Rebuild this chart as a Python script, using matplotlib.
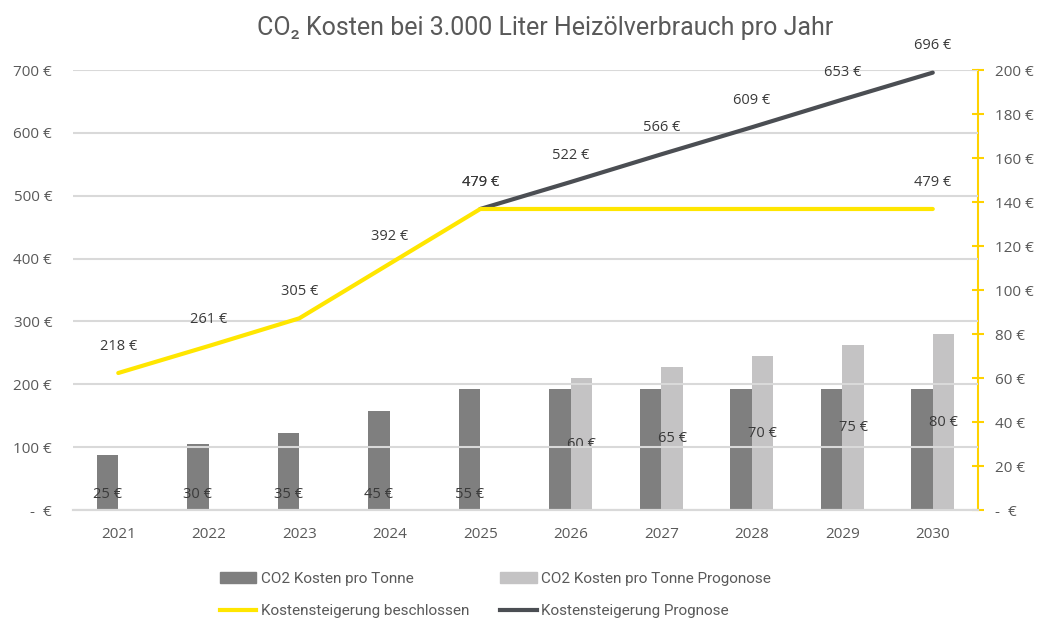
import numpy as np
import matplotlib.pyplot as plt
from matplotlib.patches import Patch
from matplotlib.lines import Line2D

years = ['2021', '2022', '2023', '2024', '2025', '2026', '2027', '2028', '2029', '2030']
co2_tonne = [25, 30, 35, 45, 55, 55, 55, 55, 55, 55]
co2_prognose = [0, 0, 0, 0, 0, 60, 65, 70, 75, 80]
kosten_beschlossen = [218, 261, 305, 392, 479, 479, 479, 479, 479, 479]
kosten_prognose = [None, None, None, None, 479, 522, 566, 609, 653, 696]

left_ticks = [0, 100, 200, 300, 400, 500, 600, 700]
right_ticks = [0, 20, 40, 60, 80, 100, 120, 140, 160, 180, 200]

dark_bar = '#7f7f7f'
light_bar = '#c4c3c4'
yellow = '#ffe600'
dark_line = '#4b4e53'
text_col = '#595959'
label_col = '#3a3a3a'

plt.rcParams['font.family'] = ['Open Sans', 'DejaVu Sans']

fig = plt.figure(figsize=(10.43, 6.26), dpi=100)
ax = fig.add_axes([0.070, 0.1853, 0.8677, 0.7027])
ax2 = ax.twinx()

x = np.arange(len(years))
w = 0.24

# bars on right axis
ax2.bar(x - w / 2, co2_tonne, w, color=dark_bar, zorder=2)
ax2.bar(x + w / 2, co2_prognose, w, color=light_bar, zorder=2)
for i, v in enumerate(co2_tonne):
    if i < 5:
        ax2.text(x[i] - w / 2, 7, f'{v} €', ha='center', va='center',
                 fontsize=10.5, color=label_col, zorder=3)
for i, v in enumerate(co2_prognose):
    if v:
        ax2.text(x[i] + w / 2, v / 2, f'{v} €', ha='center', va='center',
                 fontsize=10.5, color=label_col, zorder=3)

# lines on left axis, drawn above the bars
ax.set_zorder(ax2.get_zorder() + 1)
ax.patch.set_visible(False)
px = [i for i, v in enumerate(kosten_prognose) if v is not None]
py = [v for v in kosten_prognose if v is not None]
ax.plot(px, py, color=dark_line, lw=3, solid_capstyle='round', zorder=3)
ax.plot(x, kosten_beschlossen, color=yellow, lw=3, solid_capstyle='round', zorder=4)

for i, v in enumerate(kosten_beschlossen):
    if i <= 4 or i == 9:
        ax.annotate(f'{v} €', (x[i], v), xytext=(0, 14), textcoords='offset points',
                    ha='center', va='bottom', fontsize=10.5, color=label_col)
for i, v in zip(px, py):
    ax.annotate(f'{v} €', (x[i], v), xytext=(0, 14), textcoords='offset points',
                ha='center', va='bottom', fontsize=10.5, color=label_col)

ax.set_xlim(-0.5, 9.5)
ax.set_ylim(0, 700)
ax2.set_ylim(0, 200)

ax.set_yticks(left_ticks)
ax.set_yticklabels(['-  €' if t == 0 else f'{t} €' for t in left_ticks])
ax2.set_yticks(right_ticks)
ax2.set_yticklabels(['-  €' if t == 0 else f'{t} €' for t in right_ticks])
ax.set_xticks(x)
ax.set_xticklabels(years)

ax.grid(axis='y', color='#d9d9d9', lw=1.5)
ax.set_axisbelow(True)
ax2.grid(False)

for a in (ax, ax2):
    for s in ['top', 'left', 'right']:
        a.spines[s].set_visible(False)
    a.spines['bottom'].set_color('#d9d9d9')
    a.spines['bottom'].set_linewidth(1.5)
ax2.spines['right'].set_visible(True)
ax2.spines['right'].set_color('#ffd200')
ax2.spines['right'].set_linewidth(1.5)

ax.tick_params(axis='y', length=0, colors=text_col, labelsize=11, pad=15)
ax.tick_params(axis='x', length=0, colors=text_col, labelsize=11, pad=12)
ax2.tick_params(axis='y', direction='inout', length=9, width=1.5, color='#ffd200',
                labelcolor=text_col, labelsize=11, pad=8)

fig.text(0.523, 0.955, 'CO₂ Kosten bei 3.000 Liter Heizölverbrauch pro Jahr',
         ha='center', va='center', fontsize=18, color=text_col,
         family=['Roboto', 'DejaVu Sans'])

handles = [Patch(color=dark_bar), Line2D([], [], color=yellow, lw=3),
           Patch(color=light_bar), Line2D([], [], color=dark_line, lw=3)]
labels = ['CO2 Kosten pro Tonne', 'Kostensteigerung beschlossen',
          'CO2 Kosten pro Tonne Progonose', 'Kostensteigerung Prognose']
fig.legend(handles, labels, ncol=2, loc='center', bbox_to_anchor=(0.475, 0.05),
           frameon=False, labelcolor=text_col, columnspacing=2.0,
           handlelength=2.4, handletextpad=0.3, labelspacing=1.2,
           prop={'family': ['Roboto', 'DejaVu Sans'], 'size': 11})

fig.savefig('out.png', dpi=100)
